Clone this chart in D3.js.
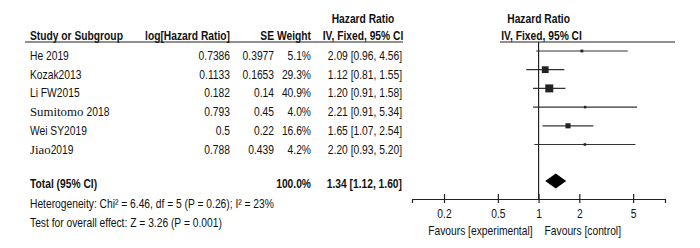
<!DOCTYPE html>
<html>
<head>
<meta charset="utf-8">
<script src="https://cdn.jsdelivr.net/npm/d3@7"></script>
<style>
  body { margin: 0; background: #fff; }
  svg text { font-family: "Liberation Sans", Arial, sans-serif; font-size: 13px; fill: #111; }
  .bold { font-weight: bold; }
  .serif { font-family: "Liberation Serif", "Times New Roman", serif; font-size: 12.8px; }
</style>
</head>
<body>
<div id="chart"></div>
<script>
// study rows
const studies = ["He 2019", "Kozak2013", "Li FW2015", "Sumitomo 2018", "Wei SY2019", "Jiao2019"];
const serifNames = { "Sumitomo 2018": ["Sumitomo ", "2018"], "Jiao2019": ["Jiao", "2019"] };
const logHR = ["0.7386", "0.1133", "0.182", "0.793", "0.5", "0.788"];
const seVals = ["0.3977", "0.1653", "0.14", "0.45", "0.22", "0.439"];
const weights = [5.1, 29.3, 40.9, 4.0, 16.6, 4.2];
const hr = [2.09, 1.12, 1.20, 2.21, 1.65, 2.20];
const lower = [0.96, 0.81, 0.91, 0.91, 1.07, 0.93];
const upper = [4.56, 1.55, 1.58, 5.34, 2.54, 5.20];

// pooled
const total = { weight: 100.0, hr: 1.34, lo: 1.12, hi: 1.60 };
const heterogeneity = "Heterogeneity: Chi² = 6.46, df = 5 (P = 0.26); I² = 23%";
const overall = "Test for overall effect: Z = 3.26 (P = 0.001)";

const axisTicks = [0.2, 0.5, 1, 2, 5];
const favours = ["Favours [experimental]", "Favours [control]"];

const width = 700, height = 248;
const svg = d3.select("#chart").append("svg")
    .attr("width", width)
    .attr("height", height);

const fmt2 = d3.format(".2f");
const ciText = (m, l, u) => `${fmt2(m)} [${fmt2(l)}, ${fmt2(u)}]`;
const squeeze = 0.79; // no Arial Narrow here, so condense the sans text

// squeeze texts horizontally around their anchor point
function narrow(sel) {
  sel.each(function() {
    const t = d3.select(this);
    const tx = +t.attr("x") || 0, ty = +t.attr("y") || 0;
    t.attr("x", 0).attr("y", 0)
        .attr("transform", `translate(${tx},${ty}) scale(${squeeze},1)`);
  });
}

// column anchors
const col = { study: 30, logHR: 230, se: 274, weight: 311, ci: 402, ciMid: 363 };

// forest plot scales
const x = d3.scaleLog().domain([0.116, 8.6]).range([412, 665]);
const rowY = d3.scaleLinear().domain([0, 1]).range([51, 69.7]);
const boxSize = d3.scaleSqrt().domain([0, 40.9]).range([0, 8]);
const totalY = 181, axisY = 199, headLineY = 42;

const txt = svg.append("g").attr("class", "texts");

// headers
txt.append("text").attr("class", "bold").attr("x", col.ciMid).attr("y", 22.5)
    .attr("text-anchor", "middle").text("Hazard Ratio");
txt.append("text").attr("class", "bold").attr("x", x(1)).attr("y", 22.5)
    .attr("text-anchor", "middle").text("Hazard Ratio");

const heads = [
  { t: "Study or Subgroup", x: col.study, a: "start" },
  { t: "log[Hazard Ratio]", x: col.logHR, a: "end" },
  { t: "SE", x: col.se, a: "end" },
  { t: "Weight", x: col.weight, a: "end" },
  { t: "IV, Fixed, 95% CI", x: col.ciMid, a: "middle" },
  { t: "IV, Fixed, 95% CI", x: x(1) + 3, a: "middle" }
];
txt.selectAll(".head")
    .data(heads)
  .join("text")
    .attr("class", "head bold")
    .attr("x", d => d.x)
    .attr("y", 39.5)
    .attr("text-anchor", d => d.a)
    .text(d => d.t);

svg.append("line").attr("x1", 25).attr("x2", 403).attr("y1", headLineY).attr("y2", headLineY)
    .attr("stroke", "#222").attr("stroke-width", 1.2);
svg.append("line").attr("x1", 500).attr("x2", 675).attr("y1", headLineY).attr("y2", headLineY)
    .attr("stroke", "#222").attr("stroke-width", 1.2);

// study rows
const rows = studies.map((s, i) => ({
  name: s, logHR: logHR[i], se: seVals[i], w: weights[i],
  hr: hr[i], lo: lower[i], hi: upper[i], i: i
}));

rows.forEach(d => {
  const by = rowY(d.i) + 9;
  if (serifNames[d.name]) {
    // serif name keeps its width, year follows in the condensed sans
    const nm = svg.append("text").attr("class", "serif")
        .attr("x", col.study).attr("y", by)
        .attr("xml:space", "preserve")
        .text(serifNames[d.name][0]);
    const w = nm.node().getComputedTextLength();
    txt.append("text").attr("x", col.study + w).attr("y", by).text(serifNames[d.name][1]);
  } else {
    txt.append("text").attr("x", col.study).attr("y", by).text(d.name);
  }
  txt.append("text").attr("x", col.logHR).attr("y", by).attr("text-anchor", "end").text(d.logHR);
  txt.append("text").attr("x", col.se).attr("y", by).attr("text-anchor", "end").text(d.se);
  txt.append("text").attr("x", col.weight).attr("y", by).attr("text-anchor", "end").text(d.w.toFixed(1) + "%");
  txt.append("text").attr("x", col.ci).attr("y", by).attr("text-anchor", "end").text(ciText(d.hr, d.lo, d.hi));
});

// CI lines and boxes
const g = svg.selectAll(".row")
    .data(rows)
  .join("g")
    .attr("class", "row");
g.append("line")
    .attr("x1", d => x(d.lo))
    .attr("x2", d => x(d.hi))
    .attr("y1", d => rowY(d.i))
    .attr("y2", d => rowY(d.i))
    .attr("stroke", "#333")
    .attr("stroke-width", 1.2);
g.append("rect")
    .attr("x", d => x(d.hr) - boxSize(d.w) / 2)
    .attr("y", d => rowY(d.i) - boxSize(d.w) / 2)
    .attr("width", d => boxSize(d.w))
    .attr("height", d => boxSize(d.w))
    .attr("fill", "#222");

// total row
txt.append("text").attr("class", "bold").attr("x", col.study).attr("y", 188).text("Total (95% CI)");
txt.append("text").attr("class", "bold").attr("x", col.weight).attr("y", 188)
    .attr("text-anchor", "end").text(total.weight.toFixed(1) + "%");
txt.append("text").attr("class", "bold").attr("x", col.ci).attr("y", 188)
    .attr("text-anchor", "end").text(ciText(total.hr, total.lo, total.hi));
txt.append("text").attr("x", col.study).attr("y", 207.5).text(heterogeneity);
txt.append("text").attr("x", col.study).attr("y", 227).text(overall);

const dh = 7.5;
svg.append("path")
    .attr("d", `M${x(total.lo)},${totalY} L${x(total.hr)},${totalY - dh} L${x(total.hi)},${totalY} L${x(total.hr)},${totalY + dh} Z`)
    .attr("fill", "#000");

// line of no effect
svg.append("line")
    .attr("x1", x(1)).attr("x2", x(1))
    .attr("y1", headLineY).attr("y2", axisY)
    .attr("stroke", "#222").attr("stroke-width", 1.2);

// axis
const axis = svg.append("g")
    .attr("transform", `translate(0,${axisY})`)
    .call(d3.axisBottom(x).tickValues(axisTicks).tickFormat(d3.format("")).tickSizeOuter(0).tickSize(4));
axis.select(".domain").attr("stroke", "#222").attr("stroke-width", 1.2);
axis.selectAll(".tick line").attr("y1", -5).attr("y2", 4).attr("stroke", "#222").attr("stroke-width", 1.2);
axis.selectAll(".tick text")
    .attr("y", 19).attr("dy", 0)
    .style("font-family", '"Liberation Sans", Arial, sans-serif')
    .style("font-size", "13px")
    .attr("fill", "#111");
narrow(axis.selectAll(".tick text"));

txt.append("text").attr("x", x(1) - 6).attr("y", 235).attr("text-anchor", "end").text(favours[0]);
txt.append("text").attr("x", x(1) + 6).attr("y", 235).attr("text-anchor", "start").text(favours[1]);

narrow(txt.selectAll("text"));
</script>
</body>
</html>
